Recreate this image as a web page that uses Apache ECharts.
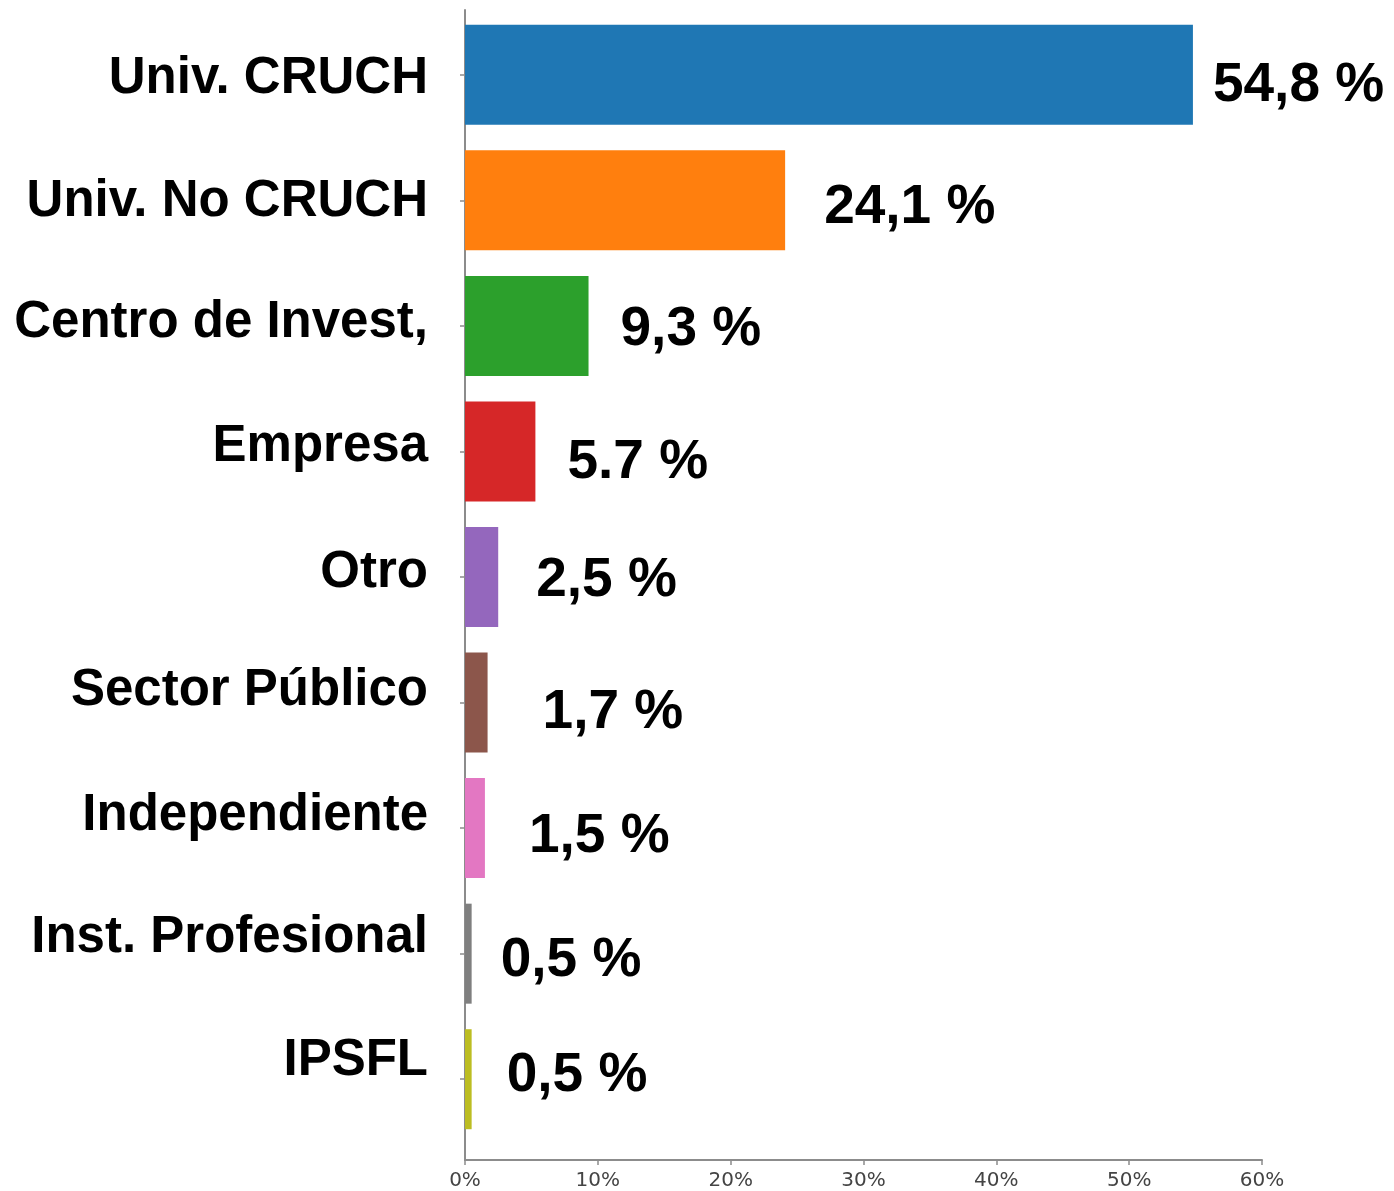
<!DOCTYPE html>
<html>
<head>
<meta charset="utf-8">
<script src="https://cdn.jsdelivr.net/npm/echarts@6/dist/echarts.min.js"></script>
<style>
  html, body { margin: 0; padding: 0; background: #fff; }
  #main { width: 1394px; height: 1191px; }
</style>
</head>
<body>
<div id="main"></div>
<script>
// categories, top to bottom
const categories = ['Univ. CRUCH', 'Univ. No CRUCH', 'Centro de Invest,', 'Empresa', 'Otro',
  'Sector Público', 'Independiente', 'Inst. Profesional', 'IPSFL'];
// bar lengths (%) as drawn
const values = [54.8, 24.1, 9.3, 5.3, 2.5, 1.7, 1.5, 0.5, 0.5];
// the printed labels
const valueLabels = ['54,8 %', '24,1 %', '9,3 %', '5.7 %', '2,5 %', '1,7 %', '1,5 %', '0,5 %', '0,5 %'];
const xTicks = [0, 10, 20, 30, 40, 50, 60];

const colors = ['#1f77b4', '#ff7f0e', '#2ca02c', '#d62728', '#9467bd', '#8c564b', '#e377c2', '#7f7f7f', '#bcbd22'];
// hand placed labels in the original: nudges in px
const labelNudge = [[20, 11], [39, 7], [32, 4], [32, 11], [38, 4], [55, 10], [44, 9], [29, 7], [35, -3]];
const catShiftUp = [-4, -2, 3, 5, 4, 12, 12, 16, 18];

const rich = {}
catShiftUp.forEach((s, i) => {
  rich['c' + i] = {
    fontFamily: 'Liberation Sans',
    fontWeight: 'bold',
    fontSize: 51,
    color: '#000',
    padding: s >= 0 ? [0, 0, 2 * s, 0] : [-2 * s, 0, 0, 0]
  }
})

const chart = echarts.init(document.getElementById('main'), null, { renderer: 'canvas' });

const option = {
  animation: false,
  grid: [
    { left: 465, right: 132, top: 12, bottom: 49 },
    { left: 465, right: 132, top: 10, bottom: 31 }
  ],
  xAxis: [{
    gridIndex: 0,
    type: 'value',
    min: 0,
    max: 60,
    interval: 10,
    offset: 18,
    axisLine: { show: true, lineStyle: { color: '#8c8c8c', width: 2 } },
    axisTick: { show: true, length: 5, lineStyle: { color: '#8c8c8c', width: 1.5 } },
    axisLabel: {
      formatter: '{value}%',
      fontFamily: 'DejaVu Sans',
      fontSize: 20,
      color: '#444',
      margin: 11
    },
    splitLine: { show: false }
  }, {
    gridIndex: 1,
    type: 'value',
    show: false
  }],
  yAxis: [{
    gridIndex: 0,
    type: 'category',
    inverse: true,
    data: categories,
    axisLine: { show: false },
    axisTick: { show: true, alignWithLabel: true, length: 5, lineStyle: { color: '#8c8c8c', width: 1.5 } },
    axisLabel: {
      margin: 37,
      formatter: function (val, idx) {
        return '{c' + idx + '|' + val + '}';
      },
      rich: rich
    }
  }, {
    gridIndex: 1,
    type: 'value',
    axisLine: { show: true, lineStyle: { color: '#8c8c8c', width: 2 } },
    axisTick: { show: false },
    axisLabel: { show: false },
    splitLine: { show: false }
  }],
  series: [{
    type: 'bar',
    xAxisIndex: 0,
    yAxisIndex: 0,
    barWidth: 100,
    data: values.map((v, i) => ({
      value: v,
      itemStyle: { color: colors[i] },
      label: { offset: labelNudge[i] }
    })),
    label: {
      show: true,
      position: 'right',
      distance: 0,
      fontFamily: 'Liberation Sans',
      fontWeight: 'bold',
      fontSize: 55,
      color: '#000',
      formatter: p => valueLabels[p.dataIndex]
    }
  }]
};

chart.setOption(option);
</script>
</body>
</html>
